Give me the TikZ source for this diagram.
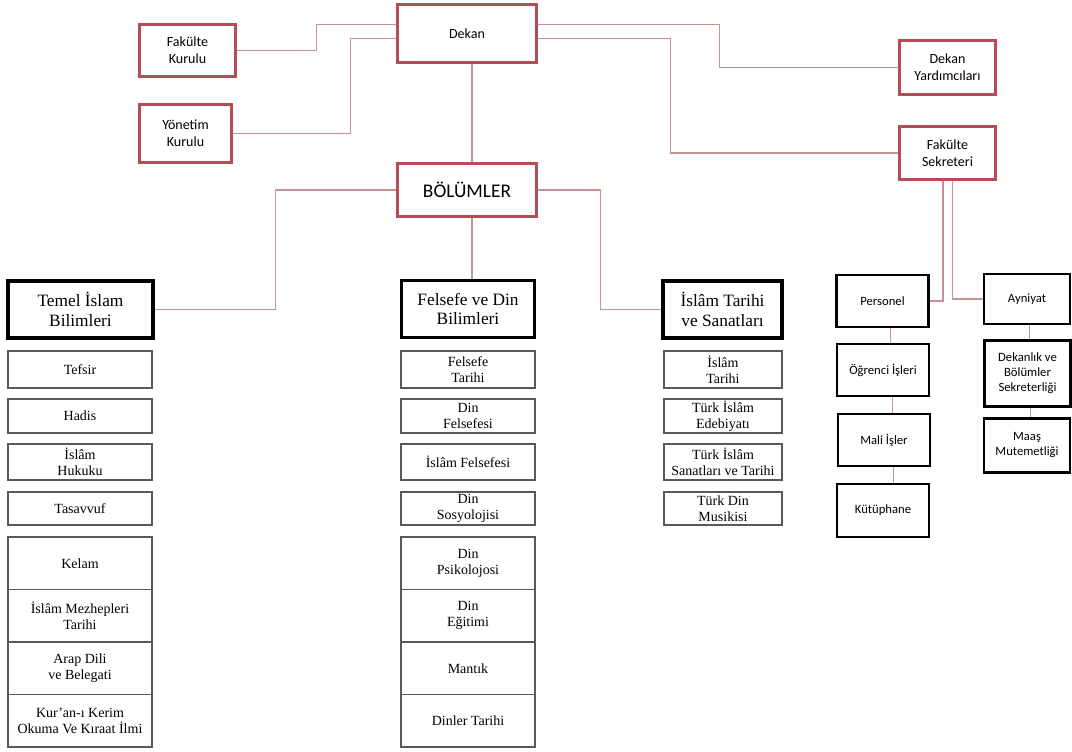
\documentclass[tikz,border=0pt]{standalone}
\usepackage{fontspec}
\setmainfont{Liberation Serif}
\newfontfamily\calibri{Carlito}
\definecolor{boxred}{RGB}{180,78,84}
\definecolor{linkred}{RGB}{200,145,148}
\begin{document}
\begin{tikzpicture}[x=0.75pt,y=-0.75pt,
    redbox/.style={draw=boxred,line width=1.8pt,fill=white,align=center,inner sep=1pt,
      font=\calibri\fontsize{10.5}{12.5}\selectfont},
    head/.style={draw=black,line width=2.6pt,align=center,inner sep=1pt,
      font=\fontsize{13}{14.5}\selectfont},
    sub/.style={draw=black!65,line width=0.9pt,align=center,inner sep=1pt,
      font=\fontsize{10.5}{12}\selectfont},
    office/.style={draw=black,line width=1.7pt,align=center,inner sep=1pt,
      font=\calibri\fontsize{9.5}{11.25}\selectfont},
    link/.style={draw=linkred,line width=0.8pt}]
\useasboundingbox (0,0) rectangle (1072,751);

\node[redbox,minimum width=72pt,minimum height=39pt] (fk) at (187.5,50.5) {Fakülte\\Kurulu};
\node[redbox,minimum width=69pt,minimum height=43.5pt] (yk) at (185.5,133.5) {Yönetim\\Kurulu};
\node[redbox,minimum width=104pt,minimum height=43.5pt] (dekan) at (467,33.5) {Dekan};
\node[redbox,minimum width=72pt,minimum height=40.5pt] (dy) at (947.5,67.5) {Dekan\\Yardımcıları};
\node[redbox,minimum width=72pt,minimum height=39.5pt] (fs) at (947.5,153) {Fakülte\\Sekreteri};
\node[redbox,minimum width=104pt,minimum height=39.5pt,font=\calibri\fontsize{14.5}{17}\selectfont] (bol) at (467,190) {BÖLÜMLER};

\node[head,minimum width=109pt,minimum height=43pt] (temel) at (80.5,309.5) {Temel İslam\\Bilimleri};
\node[head,minimum width=99.5pt,minimum height=42.5pt] (fel) at (468,309) {Felsefe ve Din\\Bilimleri};
\node[head,minimum width=89.5pt,minimum height=43pt] (tar) at (722.5,309.5) {İslâm Tarihi\\ve Sanatları};

\foreach \i/\y/\h/\ta/\tb/\tc in {
    1/369.5/27.75pt/Tefsir/{Felsefe\\Tarihi}/{İslâm\\Tarihi},
    2/416/25.5pt/Hadis/{Din\\Felsefesi}/{Türk İslâm\\Edebiyatı},
    3/462/27pt/{İslâm\\Hukuku}/İslâm Felsefesi/{Türk İslâm\\Sanatları ve Tarihi},
    4/508.5/24.75pt/Tasavvuf/{Din\\Sosyolojisi}/{Türk Din\\Musikisi}}{
  \node[sub,minimum width=108pt,minimum height=\h] (ta\i) at (80,\y) {\ta};
  \node[sub,minimum width=100.5pt,minimum height=\h] (fa\i) at (468,\y) {\tb};
  \node[sub,minimum width=88.5pt,minimum height=\h] (ia\i) at (723,\y) {\tc};
}
\foreach \t [count=\i] in {Kelam,{İslâm Mezhepleri\\Tarihi},{Arap Dili\\ve Belegati},{Kur'an-ı Kerim\\Okuma Ve Kıraat İlmi}}
  \node[sub,minimum width=108pt,minimum height=39.4pt] (tb\i) at (80,{510.75+52.5*\i}) {\t};
\foreach \t [count=\i] in {{Din\\Psikolojosi},{Din\\Eğitimi},Mantık,Dinler Tarihi}
  \node[sub,minimum width=100.5pt,minimum height=39.4pt] (fb\i) at (468,{510.75+52.5*\i}) {\t};

\node[office,minimum width=69pt,minimum height=39.5pt] (pers) at (882.5,301) {Personel};
\node[office,minimum width=69.5pt,minimum height=39.5pt] (ogr) at (883,370) {Öğrenci İşleri};
\node[office,minimum width=69.5pt,minimum height=39.5pt] (mali) at (884,440) {Mali İşler};
\node[office,minimum width=69.5pt,minimum height=40pt] (kut) at (883,510.5) {Kütüphane};
\node[office,minimum width=65pt,minimum height=38pt] (ayn) at (1027,299) {Ayniyat};
\node[office,minimum width=64.5pt,minimum height=49.5pt] (dks) at (1027.5,373.5) {Dekanlık ve\\Bölümler\\Sekreterliği};
\node[office,minimum width=65pt,minimum height=40.5pt] (maas) at (1027,445.5) {Maaş\\Mutemetliği};

\draw[link] (fk.east) -- ++(80,0) |- ([yshift=7pt]dekan.west);
\draw[link] (yk.east) -- ++(118,0) |- ([yshift=-4pt]dekan.west);
\draw[link] ([yshift=7pt]dekan.east) -- ++(182,0) |- (dy.west);
\draw[link] ([yshift=-4pt]dekan.east) -- ++(133,0) |- (fs.west);
\draw[link] ([xshift=3.75pt]dekan.south) -- ([xshift=3.75pt]bol.north);
\draw[link] (bol.west) -- ++(-121,0) |- (temel.east);
\draw[link] ([xshift=3.75pt]bol.south) -- ([xshift=3pt]fel.north);
\draw[link] (bol.east) -- ++(63,0) |- (tar.west);
\draw[link] ([xshift=-3.4pt]fs.south) |- (pers.east);
\draw[link] ([xshift=3.4pt]fs.south) |- (ayn.west);
\foreach \a/\b/\s in {pers/ogr/6pt,ogr/mali/7pt,mali/kut/7pt,ayn/dks/2pt,dks/maas/2pt}
  \draw[link] ([xshift=\s]\a.south) -- ([xshift=\s]\a.south |- \b.north);
\end{tikzpicture}
\end{document}
